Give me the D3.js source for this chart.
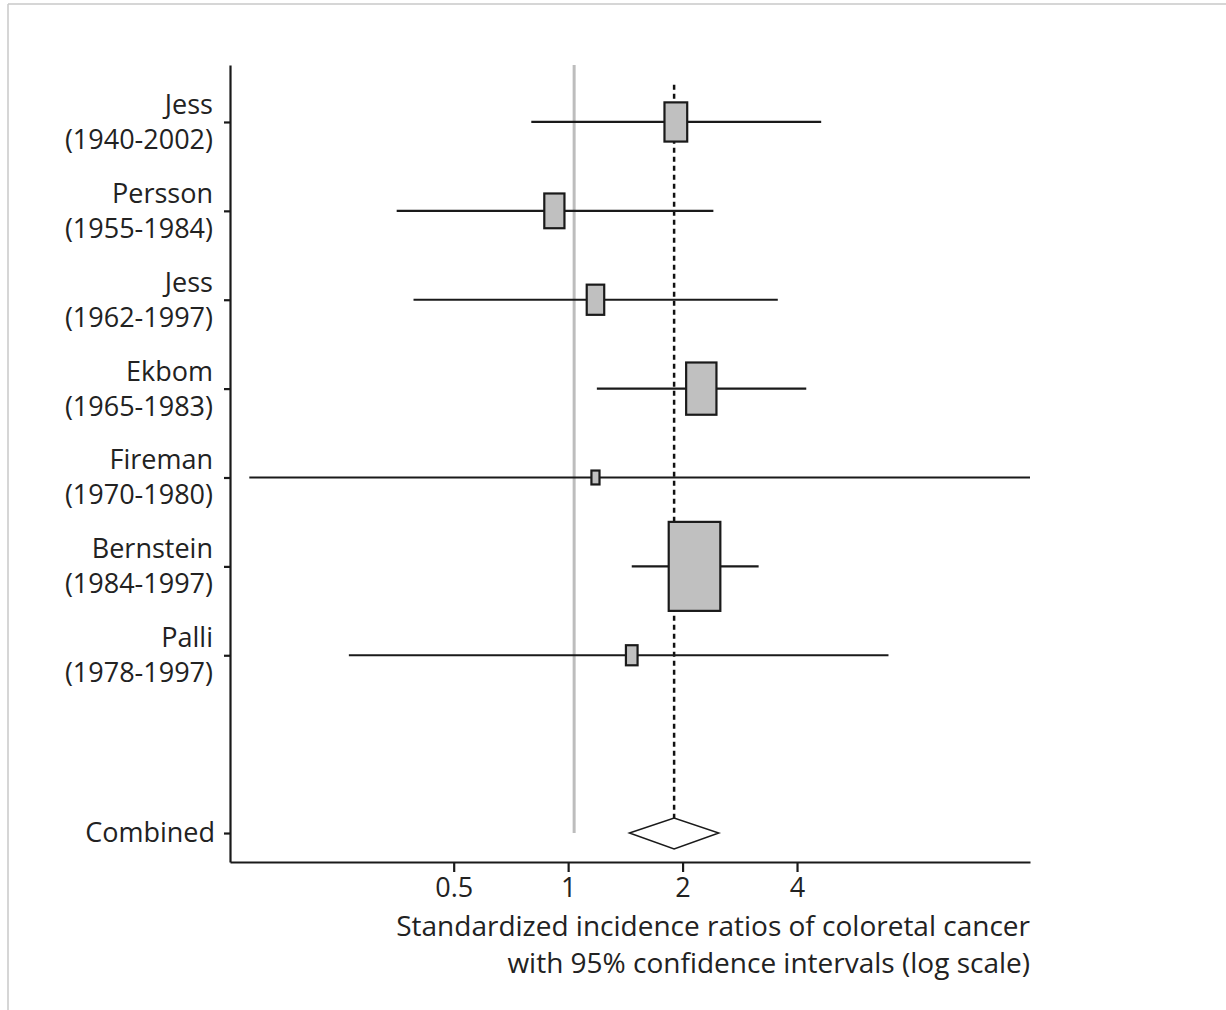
<!DOCTYPE html>
<html>
<head>
<meta charset="utf-8">
<script src="https://cdn.jsdelivr.net/npm/d3@7"></script>
<style>
  body { margin: 0; background: #fff; }
  svg text { font-family: "Open Sans", "Noto Sans", sans-serif; fill: #222; }
</style>
</head>
<body>
<svg id="chart" width="1226" height="1010"></svg>
<script>
// Study data
const studies = ["Jess", "Persson", "Jess", "Ekbom", "Fireman", "Bernstein", "Palli"];
const periods = ["(1940-2002)", "(1955-1984)", "(1962-1997)", "(1965-1983)", "(1970-1980)", "(1984-1997)", "(1978-1997)"];
const sir = [1.92, 0.92, 1.18, 2.24, 1.18, 2.15, 1.47];
const lower = [0.80, 0.354, 0.392, 1.19, 0.145, 1.47, 0.265];
const upper = [4.63, 2.41, 3.56, 4.23, 16.4, 3.17, 6.96];
const weights = [10.3, 8.1, 6.1, 18.3, 1.3, 53.1, 2.7];   // relative study weights (%)
const rowIndex = [0, 1, 2, 3, 4, 5, 6];

// combined estimate
const combined = { label: "Combined", est: 1.90, lo: 1.45, hi: 2.49, row: 8 };
const nullValue = 1.037;
const xTicks = [0.5, 1, 2, 4];

const svg = d3.select("#chart");
const fontSize = 27;

// frame lines of the original figure
svg.append("line").attr("x1", 8).attr("x2", 1226).attr("y1", 4).attr("y2", 4)
    .attr("stroke", "#c8c8c8").attr("stroke-width", 1.5);
svg.append("line").attr("x1", 8).attr("x2", 8).attr("y1", 4).attr("y2", 1010)
    .attr("stroke", "#c8c8c8").attr("stroke-width", 1.5);

const x = d3.scaleLog().base(2).domain([0.129, 16.4]).range([230, 1030]).clamp(true);
const y = d3.scaleLinear().domain([-0.641, 8.326]).range([65, 862]);

// reference line at 1 (grey)
svg.append("line")
    .attr("x1", x(nullValue)).attr("x2", x(nullValue))
    .attr("y1", y(-0.641)).attr("y2", y(combined.row))
    .attr("stroke", "#bdbdbd").attr("stroke-width", 3);

// dashed line at combined estimate
svg.append("line")
    .attr("x1", x(combined.est)).attr("x2", x(combined.est))
    .attr("y1", y(-0.42)).attr("y2", y(combined.row) - 15)
    .attr("stroke", "#111").attr("stroke-width", 2.5)
    .attr("stroke-dasharray", "5,4");

// confidence intervals
svg.selectAll("line.ci").data(rowIndex).enter().append("line")
    .attr("class", "ci")
    .attr("x1", i => x(lower[i])).attr("x2", i => x(upper[i]))
    .attr("y1", i => y(i)).attr("y2", i => y(i))
    .attr("stroke", "#1a1a1a").attr("stroke-width", 2.2);

// boxes sized by weight
const size = d3.scaleSqrt().domain([0, 53.1]).range([0, 89]);
svg.selectAll("rect.box").data(rowIndex).enter().append("rect")
    .attr("class", "box")
    .attr("x", i => x(sir[i]) - size(weights[i]) * 0.29)
    .attr("y", i => y(i) - size(weights[i]) / 2)
    .attr("width", i => size(weights[i]) * 0.58)
    .attr("height", i => size(weights[i]))
    .attr("fill", "#c0c0c0").attr("stroke", "#1a1a1a").attr("stroke-width", 2.2);

// combined diamond
const cy = y(combined.row);
svg.append("path")
    .attr("d", `M${x(combined.lo)},${cy} L${x(combined.est)},${cy - 15} L${x(combined.hi)},${cy} L${x(combined.est)},${cy + 16} Z`)
    .attr("fill", "#fff").attr("stroke", "#1a1a1a").attr("stroke-width", 1.5);

// axes
const yAxis = d3.axisLeft(y).tickValues(rowIndex.concat([combined.row]))
    .tickSize(6).tickSizeOuter(0).tickFormat("");
const gy = svg.append("g").attr("transform", "translate(230,0)").call(yAxis);

const xAxis = d3.axisBottom(x).tickValues(xTicks).tickSize(10).tickSizeOuter(0)
    .tickFormat(d => d === 0.5 ? "0.5" : d3.format("d")(d));
const gx = svg.append("g").attr("transform", "translate(0,862)").call(xAxis);

[gx, gy].forEach(g => {
  g.selectAll("path, line").attr("stroke", "#1a1a1a").attr("stroke-width", 2.2);
});
gx.selectAll("text").attr("font-size", fontSize).attr("dy", null).attr("y", 35);

// row labels
const labels = svg.append("g").attr("text-anchor", "end").attr("font-size", fontSize);
rowIndex.forEach(i => {
  labels.append("text").attr("x", 213).attr("y", y(i) - 8).text(studies[i]);
  labels.append("text").attr("x", 213).attr("y", y(i) + 27).text(periods[i]);
});
labels.append("text").attr("x", 215).attr("y", y(combined.row) + 9).text(combined.label);

// axis title
const title = svg.append("g").attr("text-anchor", "end").attr("font-size", 28);
title.append("text").attr("x", 1030).attr("y", 936).text("Standardized incidence ratios of coloretal cancer");
title.append("text").attr("x", 1030).attr("y", 973).text("with 95% confidence intervals (log scale)");
</script>
</body>
</html>
